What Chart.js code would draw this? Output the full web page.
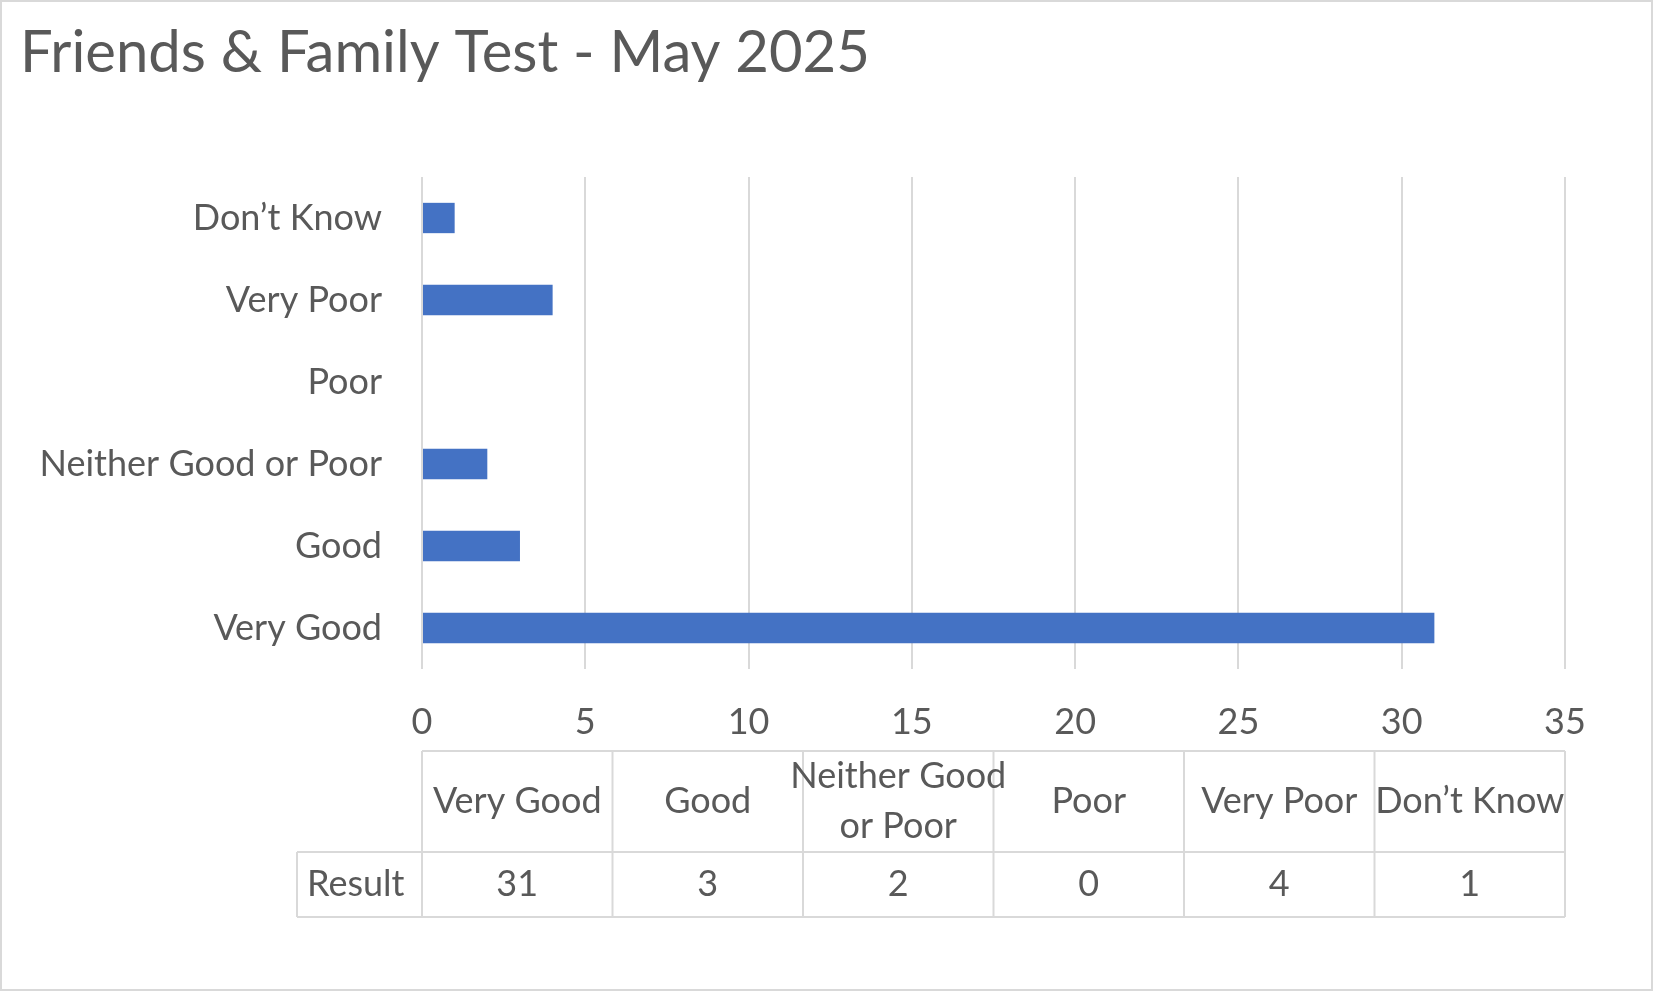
<!DOCTYPE html>
<html>
<head>
<meta charset="utf-8">
<script src="https://cdn.jsdelivr.net/npm/chart.js@4"></script>
<style>
  html, body { margin: 0; padding: 0; background: #fff; }
  canvas { display: block; }
</style>
</head>
<body>
<canvas id="chart" width="1653" height="993"></canvas>
<script>
// chart data
const categories = ["Very Good", "Good", "Neither Good or Poor", "Poor", "Very Poor", "Don\u2019t Know"];
const tableHeaders = [["Very Good"], ["Good"], ["Neither Good", "or Poor"], ["Poor"], ["Very Poor"], ["Don\u2019t Know"]];
const results = [31, 3, 2, 0, 4, 1];
const seriesName = "Result";
const chartTitle = "Friends & Family Test - May 2025";

const TEXT = "#595959";
const LINE = "#d9d9d9";
const FONT = "Lato, 'Noto Sans', sans-serif";

// title, border and data table drawn on the canvas
const extras = {
    id: "extras",
    afterDraw(chart) {
        const ctx = chart.ctx;
        const x = chart.scales.x;
        const left = x.getPixelForValue(0);
        const right = chart.chartArea.right;
        const colW = (right - left) / categories.length;
        const top = 751, mid = 852, bottom = 917, labelLeft = 297;

        ctx.save();
        ctx.strokeStyle = LINE;
        ctx.lineWidth = 2;
        ctx.strokeRect(1, 1, chart.width - 2, chart.height - 4);

        ctx.fillStyle = TEXT;
        ctx.font = `58px ${FONT}`;
        ctx.textBaseline = "alphabetic";
        ctx.textAlign = "left";
        ctx.fillText(chartTitle, 20, 72);

        // table grid
        ctx.beginPath();
        ctx.moveTo(left, top); ctx.lineTo(right, top);
        ctx.moveTo(labelLeft, mid); ctx.lineTo(right, mid);
        ctx.moveTo(labelLeft, bottom); ctx.lineTo(right, bottom);
        ctx.moveTo(labelLeft, mid); ctx.lineTo(labelLeft, bottom);
        for (let i = 0; i <= categories.length; i++) {
            ctx.moveTo(left + i * colW, top);
            ctx.lineTo(left + i * colW, bottom);
        }
        ctx.stroke();

        ctx.font = `36px ${FONT}`;
        ctx.textAlign = "center";
        ctx.textBaseline = "middle";
        tableHeaders.forEach((lines, i) => {
            const cx = left + (i + 0.5) * colW;
            const cy = (top + mid) / 2;
            lines.forEach((t, j) => {
                ctx.fillText(t, cx, cy + (j - (lines.length - 1) / 2) * 50);
            });
            ctx.fillText(String(results[i]), cx, (mid + bottom) / 2);
        });
        ctx.textAlign = "left";
        ctx.fillText(seriesName, labelLeft + 10, (mid + bottom) / 2);
        ctx.restore();
    }
};

new Chart(document.getElementById("chart"), {
    type: "bar",
    data: {
        labels: categories,
        datasets: [{
            label: seriesName,
            data: results,
            backgroundColor: "#4472c4",
            barPercentage: 1,
            categoryPercentage: 0.37
        }]
    },
    options: {
        indexAxis: "y",
        responsive: false,
        animation: false,
        layout: { padding: { top: 177, right: 88, left: 0, bottom: 0 } },
        plugins: { legend: { display: false }, tooltip: { enabled: false } },
        scales: {
            x: {
                min: 0, max: 35,
                ticks: { stepSize: 5, color: TEXT, font: { family: FONT, size: 36 }, padding: 32 },
                grid: { color: LINE, lineWidth: 2, drawTicks: false },
                border: { display: false },
                afterFit: s => { s.height = 324; }
            },
            y: {
                reverse: true,
                ticks: { color: TEXT, font: { family: FONT, size: 36 }, padding: 32 },
                grid: { display: false },
                border: { display: false },
                afterFit: s => { s.width = 422; }
            }
        }
    },
    plugins: [extras]
});
</script>
</body>
</html>
